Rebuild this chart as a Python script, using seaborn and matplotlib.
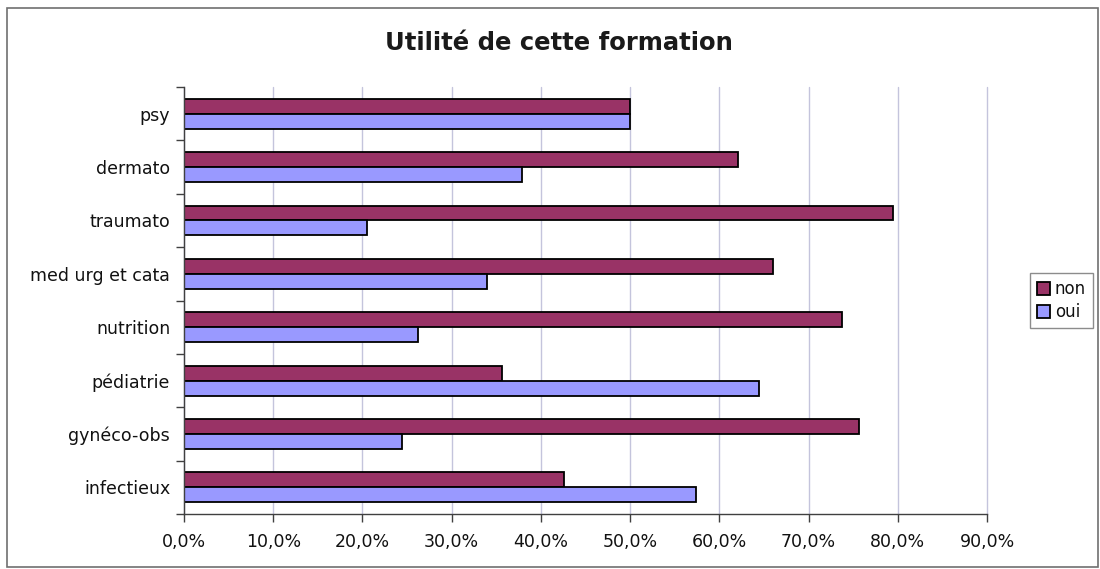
import pandas as pd
import seaborn as sns
import matplotlib.pyplot as plt
from matplotlib.patches import Rectangle
from matplotlib.ticker import FuncFormatter, FixedLocator

# Data (percent)
categories = ["psy", "dermato", "traumato", "med urg et cata",
              "nutrition", "pédiatrie", "gynéco-obs", "infectieux"]
non_values = [50.0, 62.1, 79.5, 66.0, 73.8, 35.6, 75.6, 42.6]
oui_values = [50.0, 37.9, 20.5, 34.0, 26.2, 64.4, 24.4, 57.4]
series = ["non", "oui"]
xticks = [0, 10, 20, 30, 40, 50, 60, 70, 80, 90]

df = pd.DataFrame({
    "categorie": categories * 2,
    "reponse": ["non"] * len(categories) + ["oui"] * len(categories),
    "valeur": non_values + oui_values,
})

sns.set_style("white")
plt.rcParams["font.family"] = ["DejaVu Sans"]
plt.rcParams["text.color"] = "#111111"
plt.rcParams["xtick.labelcolor"] = "#111111"
plt.rcParams["ytick.labelcolor"] = "#111111"

fig = plt.figure(figsize=(11, 5.69), dpi=100)
ax = fig.add_axes([0.1673, 0.0967, 0.7300, 0.7503])

sns.barplot(data=df, x="valeur", y="categorie", hue="reponse",
            order=categories, hue_order=series, orient="h",
            palette={"non": "#993366", "oui": "#9999FF"}, saturation=1,
            width=0.56, gap=0, edgecolor="black", linewidth=1.3,
            errorbar=None, ax=ax)

ax.set_xlim(0, 90)
ax.set_ylim(len(categories) - 0.5, -0.5)
ax.set_xticks(xticks)
ax.xaxis.set_major_formatter(FuncFormatter(lambda v, p: f"{v:.1f}%".replace(".", ",")))
ax.grid(axis="x", color="#C4C4DC", linewidth=1)
ax.set_axisbelow(True)
for gl in ax.get_xgridlines():
    gl.set_clip_on(False)

# tick marks between categories on the y axis
ax.yaxis.set_minor_locator(FixedLocator([i - 0.5 for i in range(len(categories) + 1)]))
ax.tick_params(axis="y", which="major", length=0, labelsize=12.5, pad=10)
ax.tick_params(axis="y", which="minor", length=6, width=1, color="#404040", direction="out", left=True)
ax.tick_params(axis="x", which="major", length=6, width=1, color="#404040", direction="out",
               bottom=True, labelsize=12.5, pad=8)

for s in ["top", "right"]:
    ax.spines[s].set_visible(False)
for s in ["left", "bottom"]:
    ax.spines[s].set_color("#404040")
    ax.spines[s].set_linewidth(1)

ax.set_xlabel("")
ax.set_ylabel("")

fig.suptitle("Utilité de cette formation", fontsize=17.5, fontweight="bold",
             x=0.508, y=0.945, color="#1a1a1a")

leg = ax.legend(title=None, loc="center left", bbox_to_anchor=(1.043, 0.5),
                fontsize=12, frameon=True, fancybox=False, edgecolor="#707070",
                handlelength=0.8, handleheight=0.8, handletextpad=0.3,
                borderpad=0.4, labelspacing=0.3)
leg.get_frame().set_linewidth(1)

# outer chart border
fig.patches.append(Rectangle((0.006, 0.004), 0.992, 0.982, transform=fig.transFigure,
                             fill=False, edgecolor="#707070", linewidth=1.2))

plt.savefig("out.png", dpi=100)
